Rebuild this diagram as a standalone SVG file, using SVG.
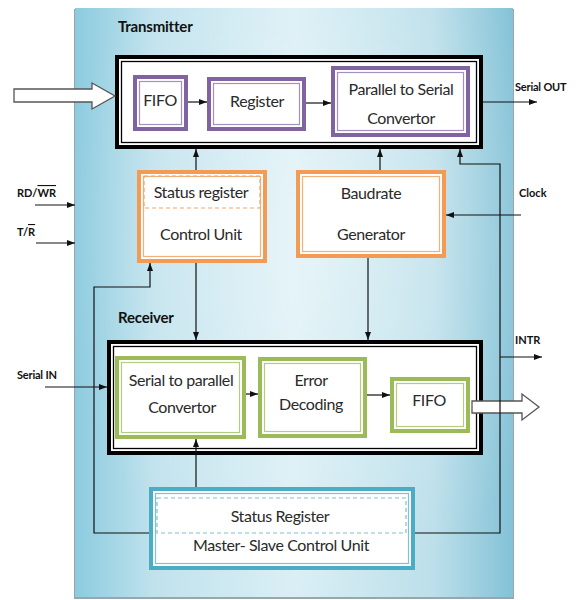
<svg xmlns="http://www.w3.org/2000/svg" width="576" height="600" viewBox="0 0 576 600">
<style>
.t{font-family:Lato,"Liberation Sans",sans-serif;font-size:16px;letter-spacing:-0.4px;fill:#2a2a2a;text-anchor:middle}
.b{font-family:Lato,"Liberation Sans",sans-serif;font-weight:bold;fill:#111}
.ln{fill:none;stroke:#111;stroke-width:1.2}
.bk{fill:#fff;stroke:#000;stroke-width:4}
.bki{fill:none;stroke:#000;stroke-width:1.3}
.pu{fill:#fff;stroke:#8064a2;stroke-width:4}
.pui{fill:none;stroke:#a58fc4;stroke-width:1.2}
.or{fill:#fff;stroke:#f39a55;stroke-width:4}
.ori{fill:none;stroke:#f2b07a;stroke-width:1.2}
.gr{fill:#fff;stroke:#9bbb59;stroke-width:4}
.gri{fill:none;stroke:#b3cc80;stroke-width:1.2}
.te{fill:#fff;stroke:#4bacc6;stroke-width:4}
.tei{fill:none;stroke:#7dc2d6;stroke-width:1.2}
.hol{fill:#fff;stroke:#555;stroke-width:1.3}
</style>
<defs>
<linearGradient id="bg" x1="0" y1="0" x2="1" y2="0">
<stop offset="0" stop-color="#8ccbdf"/>
<stop offset="0.18" stop-color="#c0e2ed"/>
<stop offset="0.5" stop-color="#daeff5"/>
<stop offset="0.82" stop-color="#bcdfea"/>
<stop offset="1" stop-color="#84c2d7"/>
</linearGradient>
<radialGradient id="rg" cx="0.55" cy="0.4" r="0.6">
<stop offset="0" stop-color="#ffffff" stop-opacity="0.35"/>
<stop offset="1" stop-color="#ffffff" stop-opacity="0"/>
</radialGradient>
<marker id="a" viewBox="0 0 8 6" refX="8" refY="3" markerWidth="8" markerHeight="6" markerUnits="userSpaceOnUse" orient="auto">
<path d="M0,0 L8,3 L0,6 Z" fill="#111"/>
</marker>
</defs>

<g id="panel">
<rect x="74" y="9" width="440" height="590" fill="#9aa6ab"/>
<rect x="75" y="8" width="438" height="589" fill="url(#bg)"/>
<rect x="75" y="8" width="438" height="589" fill="url(#rg)"/>
</g>

<g id="labels">
<text class="b" x="118" y="32" font-size="15" letter-spacing="-0.2">Transmitter</text>
<text class="b" x="118" y="323" font-size="15" letter-spacing="-0.2">Receiver</text>
<text class="b" x="515" y="91" font-size="11" letter-spacing="-0.2">Serial OUT</text>
<text class="b" x="17" y="197" font-size="11">RD/<tspan style="text-decoration:overline">WR</tspan></text>
<text class="b" x="17" y="236" font-size="11">T/<tspan style="text-decoration:overline">R</tspan></text>
<text class="b" x="519" y="197" font-size="11">Clock</text>
<text class="b" x="17" y="379" font-size="11" letter-spacing="-0.2">Serial IN</text>
<text class="b" x="515" y="344" font-size="11">INTR</text>
</g>

<g id="transmitter">
<rect class="bk" x="117" y="57" width="364" height="90"/>
<rect class="bki" x="121.5" y="61.5" width="355" height="81"/>
</g>
<g id="tx-fifo">
<rect class="pu" x="135" y="77" width="51" height="52"/>
<rect class="pui" x="139.5" y="81.5" width="42" height="43"/>
<text class="t" x="160" y="106">FIFO</text>
</g>
<g id="tx-register">
<rect class="pu" x="209" y="79" width="95" height="50"/>
<rect class="pui" x="213.5" y="83.5" width="86" height="41"/>
<text class="t" x="257" y="107">Register</text>
</g>
<g id="tx-p2s">
<rect class="pu" x="333" y="68" width="135" height="67"/>
<rect class="pui" x="337.5" y="72.5" width="126" height="58"/>
<text class="t" x="401" y="95">Parallel to Serial</text>
<text class="t" x="401" y="124">Convertor</text>
</g>

<g id="control-unit">
<rect class="or" x="139" y="172" width="126" height="89"/>
<rect class="ori" x="143.5" y="176.5" width="117" height="80"/>
<rect x="144" y="176" width="116" height="32" fill="none" stroke="#f0a56a" stroke-width="1.2" stroke-dasharray="4 3"/>
<text class="t" x="201" y="198">Status register</text>
<text class="t" x="201" y="240">Control Unit</text>
</g>
<g id="baudrate">
<rect class="or" x="298" y="172" width="146" height="84"/>
<rect class="ori" x="302.5" y="176.5" width="137" height="75"/>
<text class="t" x="371" y="199">Baudrate</text>
<text class="t" x="371" y="240">Generator</text>
</g>

<g id="receiver">
<rect class="bk" x="109" y="342" width="372" height="111"/>
<rect class="bki" x="113.5" y="346.5" width="363" height="102"/>
</g>
<g id="rx-s2p">
<rect class="gr" x="117" y="358" width="127" height="79"/>
<rect class="gri" x="121.5" y="362.5" width="118" height="70"/>
<text class="t" x="181" y="386">Serial to parallel</text>
<text class="t" x="182" y="413">Convertor</text>
</g>
<g id="rx-error">
<rect class="gr" x="260" y="359" width="105" height="77"/>
<rect class="gri" x="264.5" y="363.5" width="96" height="68"/>
<text class="t" x="311" y="386">Error</text>
<text class="t" x="311" y="410">Decoding</text>
</g>
<g id="rx-fifo">
<rect class="gr" x="392" y="379" width="76" height="52"/>
<rect class="gri" x="396.5" y="383.5" width="67" height="43"/>
<text class="t" x="429" y="406">FIFO</text>
</g>

<g id="master-slave">
<rect class="te" x="151" y="489" width="262" height="79"/>
<rect class="tei" x="155.5" y="493.5" width="253" height="70"/>
<rect x="157" y="498" width="249" height="35" fill="none" stroke="#7dbfd2" stroke-width="1.2" stroke-dasharray="4 3"/>
<text class="t" x="280" y="522">Status Register</text>
<text class="t" x="281" y="551">Master- Slave Control  Unit</text>
</g>

<g id="connectors">
<path class="hol" d="M14,89 L92,89 L92,83 L115,96 L92,109 L92,102 L14,102 Z"/>
<path class="hol" d="M472,401 L522,401 L522,394 L539,407 L522,420 L522,413 L472,413 Z"/>
<line class="ln" x1="188" y1="102" x2="207" y2="102" marker-end="url(#a)"/>
<line class="ln" x1="306" y1="103" x2="331" y2="103" marker-end="url(#a)"/>
<line class="ln" x1="483" y1="102" x2="537" y2="102" marker-end="url(#a)"/>
<line class="ln" x1="196" y1="170" x2="196" y2="149" marker-end="url(#a)"/>
<line class="ln" x1="380" y1="170" x2="380" y2="149" marker-end="url(#a)"/>
<polyline class="ln" points="415,533 500,533 500,164 460,164 460,149" marker-end="url(#a)"/>
<line class="ln" x1="500" y1="357" x2="542" y2="357" marker-end="url(#a)"/>
<line class="ln" x1="521" y1="215" x2="446" y2="215" marker-end="url(#a)"/>
<line class="ln" x1="35" y1="205" x2="75" y2="205" marker-end="url(#a)"/>
<line class="ln" x1="36" y1="243" x2="75" y2="243" marker-end="url(#a)"/>
<polyline class="ln" points="149,533 94,533 94,287 150,287 150,263" marker-end="url(#a)"/>
<line class="ln" x1="196" y1="263" x2="196" y2="340" marker-end="url(#a)"/>
<line class="ln" x1="368" y1="258" x2="368" y2="340" marker-end="url(#a)"/>
<line class="ln" x1="45" y1="387" x2="107" y2="387" marker-end="url(#a)"/>
<line class="ln" x1="246" y1="394" x2="258" y2="394" marker-end="url(#a)"/>
<line class="ln" x1="367" y1="395" x2="390" y2="395" marker-end="url(#a)"/>
<line class="ln" x1="196" y1="487" x2="196" y2="439" marker-end="url(#a)"/>
</g>
</svg>
